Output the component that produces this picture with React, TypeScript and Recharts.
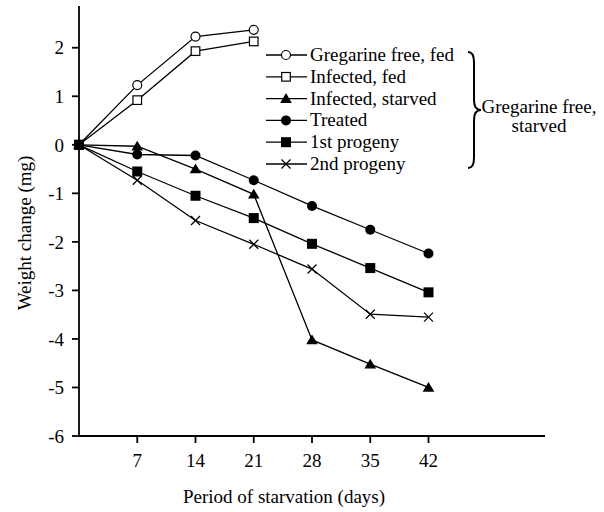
import { LineChart, Line, XAxis, YAxis, Legend } from "recharts";

const days = [0, 7, 14, 21, 28, 35, 42];
const freeFed = [0, 1.23, 2.23, 2.37];
const infectedFed = [0, 0.92, 1.93, 2.13];
const infectedStarved = [0, -0.03, -0.5, -1.02, -4.02, -4.52, -5.0];
const treated = [0, -0.2, -0.22, -0.73, -1.26, -1.75, -2.24];
const progeny1 = [0, -0.55, -1.05, -1.51, -2.04, -2.54, -3.04];
const progeny2 = [0, -0.73, -1.56, -2.05, -2.56, -3.49, -3.55];

const xTicks = [7, 14, 21, 28, 35, 42];
const yTicks = [-6, -5, -4, -3, -2, -1, 0, 1, 2];

const seriesList = [
  { key: "freeFed", name: "Gregarine free, fed", values: freeFed, marker: "openCircle" },
  { key: "infectedFed", name: "Infected, fed", values: infectedFed, marker: "openSquare" },
  { key: "infectedStarved", name: "Infected, starved", values: infectedStarved, marker: "triangle" },
  { key: "treated", name: "Treated", values: treated, marker: "circle" },
  { key: "progeny1", name: "1st progeny", values: progeny1, marker: "square" },
  { key: "progeny2", name: "2nd progeny", values: progeny2, marker: "cross" },
];

const data = days.map((d, i) => {
  const row: any = { day: d };
  seriesList.forEach((s) => {
    row[s.key] = s.values[i];
  });
  return row;
});

const FONT = "'Liberation Serif', 'Times New Roman', serif";

const Marker = ({ type, cx, cy }: { type: string; cx: number; cy: number }) => {
  switch (type) {
    case "openCircle":
      return <circle cx={cx} cy={cy} r={4.5} fill="#fff" stroke="#000" strokeWidth={1.2} />;
    case "openSquare":
      return <rect x={cx - 4.3} y={cy - 4.3} width={8.6} height={8.6} fill="#fff" stroke="#000" strokeWidth={1.2} />;
    case "triangle":
      return <polygon points={`${cx},${cy - 5.5} ${cx + 5.8},${cy + 4.3} ${cx - 5.8},${cy + 4.3}`} fill="#000" />;
    case "circle":
      return <circle cx={cx} cy={cy} r={5} fill="#000" />;
    case "square":
      return <rect x={cx - 5} y={cy - 5} width={10} height={10} fill="#000" />;
    default:
      return (
        <g stroke="#000" strokeWidth={1.3}>
          <line x1={cx - 4.5} y1={cy - 4.5} x2={cx + 4.5} y2={cy + 4.5} />
          <line x1={cx - 4.5} y1={cy + 4.5} x2={cx + 4.5} y2={cy - 4.5} />
        </g>
      );
  }
};

const makeDot = (type: string, key: string) => (props: any) => {
  const { cx, cy, index } = props;
  if (cx == null || cy == null || props.value == null) return <g key={`${key}-${index}`} />;
  return (
    <g key={`${key}-${index}`}>
      <Marker type={type} cx={cx} cy={cy} />
    </g>
  );
};

const renderLegend = () => (
  <svg width={344} height={150} style={{ display: "block" }}>
    {seriesList.map((s, i) => {
      const y = 15 + i * 21.8;
      return (
        <g key={s.key}>
          <line x1={6} y1={y} x2={47} y2={y} stroke="#000" strokeWidth={1.3} />
          <Marker type={s.marker} cx={26} cy={y} />
          <text x={50} y={y + 6} fontFamily={FONT} fontSize={19} fill="#000">
            {s.name}
          </text>
        </g>
      );
    })}
    <path
      d="M208,12 Q214,12 214,22 L214,60 Q214,70 221,70 Q214,70 214,80 L214,118 Q214,128 208,128"
      fill="none"
      stroke="#000"
      strokeWidth={2}
    />
    <text x={279} y={73} textAnchor="middle" fontFamily={FONT} fontSize={19} fill="#000">
      Gregarine free,
    </text>
    <text x={279} y={92} textAnchor="middle" fontFamily={FONT} fontSize={19} fill="#000">
      starved
    </text>
  </svg>
);

const tickStyle = { fill: "#000", fontSize: 19, fontFamily: FONT };

export default function App() {
  return (
    <div style={{ position: "absolute", left: 0, top: 0, background: "#fff" }}>
      <LineChart
        width={604}
        height={512}
        data={data}
        margin={{ top: 6, right: 59, left: 0, bottom: 0 }}
      >
        <XAxis
          dataKey="day"
          type="number"
          domain={[0, 56]}
          ticks={xTicks}
          tickSize={7}
          tickMargin={11}
          height={76}
          stroke="#000"
          strokeWidth={1.8}
          tick={tickStyle}
          tickLine={{ stroke: "#000", strokeWidth: 1.8 }}
          label={{
            value: "Period of starvation (days)",
            position: "insideBottom",
            offset: 9,
            dx: -28,
            style: { fill: "#000", fontSize: 19, fontFamily: FONT },
          }}
        />
        <YAxis
          type="number"
          domain={[-6, 2.86]}
          ticks={yTicks}
          width={79}
          tickSize={7}
          tickMargin={8}
          stroke="#000"
          strokeWidth={1.8}
          tick={tickStyle}
          tickLine={{ stroke: "#000", strokeWidth: 1.8 }}
          label={{
            value: "Weight change (mg)",
            angle: -90,
            position: "insideLeft",
            offset: 0,
            dx: 24,
            dy: 12,
            style: { fill: "#000", fontSize: 19, fontFamily: FONT, textAnchor: "middle" },
          }}
        />
        <Legend
          layout="vertical"
          align="center"
          verticalAlign="middle"
          content={renderLegend}
          wrapperStyle={{ position: "absolute", left: 260, top: 40, width: 344, height: 150 }}
        />
        {seriesList.map((s) => (
          <Line
            key={s.key}
            type="linear"
            dataKey={s.key}
            name={s.name}
            stroke="#000"
            strokeWidth={1.3}
            dot={makeDot(s.marker, s.key)}
            activeDot={false}
            isAnimationActive={false}
          />
        ))}
      </LineChart>
    </div>
  );
}
